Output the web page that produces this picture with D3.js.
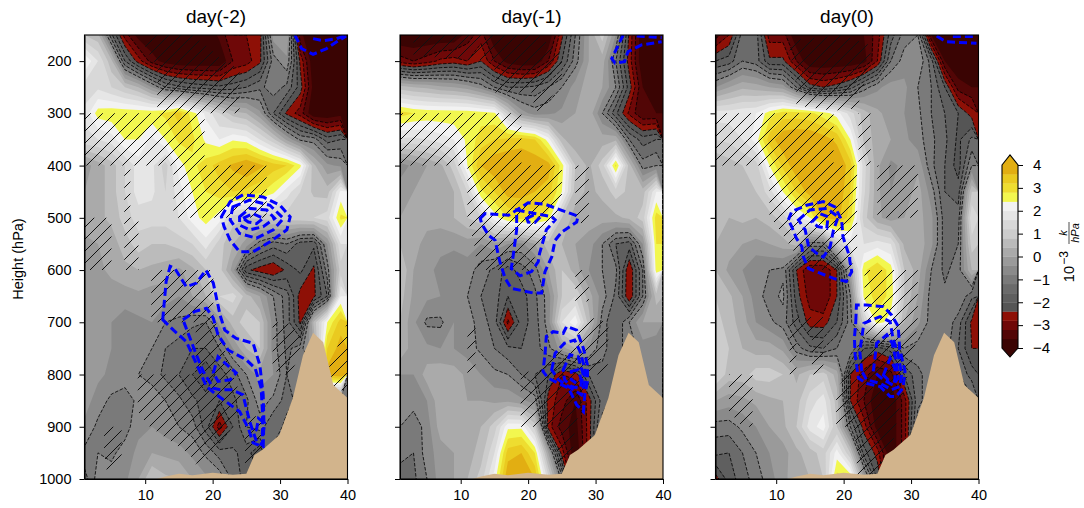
<!DOCTYPE html>
<html lang="en">
<head>
  <meta charset="utf-8">
  <title>Stability cross sections</title>
  <script src="https://d3js.org/d3.v7.min.js" charset="utf-8"></script>
  <style type="text/css">
    html, body { margin: 0; padding: 0; background: #fff; }
    text { font-family: "Liberation Sans", Arial, sans-serif; fill: #000; }
    .tick text { font-size: 14.5px; }
  </style>
</head>
<body>
  <svg id="chart" width="1084" height="508" xmlns="http://www.w3.org/2000/svg"></svg>
  <script type="text/javascript">
    // grid of the shaded field: columns are x = 1,3,...,39, rows are 150,200,...,1000 hPa
    var gridX = d3.range(1, 40, 2);
    var gridP = d3.range(150, 1001, 50);

    var titles = ['day(-2)', 'day(-1)', 'day(0)'];
    var pressureTicks = [200, 300, 400, 500, 600, 700, 800, 900, 1000];
    var xTicks = [10, 20, 30, 40];
    var colorTicks = [4, 3, 2, 1, 0, -1, -2, -3, -4];

    var bandColors = ['#3a0403', '#520606', '#6f0808', '#8e1006',
      '#555555', '#5f5f5f', '#6b6b6b', '#7a7a7a', '#8a8a8a', '#9a9a9a', '#aaaaaa', '#bbbbbb',
      '#cccccc', '#d8d8d8', '#e6e6e6', '#f2f2f2',
      '#f2f74f', '#eedd30', '#eaca20', '#e2ae12'];
    var bandEdges = d3.range(0, 21).map(function(i) { return +(-4 + i * 0.4).toFixed(1); });
    var dashLevels = [-3.2, -2.8, -2.4, -2, -1.6, -1.2, -0.8];

    var terrainX = [11.7, 13, 15, 17, 20, 23, 25, 26.2, 27.4, 29.9, 31.9, 33.4, 34.9, 36.4, 37.9, 40];
    var terrainP = [1000, 995, 990, 993, 988, 992, 990, 954, 944, 916, 845, 763, 720, 738, 820, 845];

    var day2 = [
      [0.8, 0.5, -1.5, -3, -3.8, -4, -4, -4, -4, -4, -3.5, -2.8, -2.8, -2.6, -0.2, 0, -3.5, -4, -4, -4],
      [2.4, 1.6, 0.5, -1.6, -2.6, -3.4, -3.8, -4, -4, -4, -4, -3.2, -3, -2.5, -1, -0.5, -2.5, -4, -4, -4],
      [1.4, 1.5, 1.2, 0.8, 0.4, -0.4, -1.2, -1.5, -1.7, -1.8, -1.9, -1.8, -1.6, -1.3, -1, -1.3, -2.2, -3.8, -4, -4],
      [1.7, 2.6, 2.7, 2.7, 2.7, 2.7, 2.9, 3.4, 2.6, 1.9, 1.2, 0.6, 0.4, -0.3, -1.6, -2.5, -3, -4, -4, -3.8],
      [1.5, 1.6, 1.8, 2.4, 2.4, 1.9, 2.4, 2.9, 2.9, 2.3, 2, 2.35, 2.2, 1.6, 0.9, -0.1, -0.9, -1, -1.8, -1.6],
      [-0.2, 0.2, 0.6, 1.2, 1.8, 1.7, 1, 2.2, 2.7, 3, 3.4, 3.7, 4, 3.7, 3.4, 3.2, 2.5, 0.5, -0.3, -0.5],
      [0, 0.2, 0.6, 1.2, 1.8, 1.7, 1.2, 1.8, 2.4, 2.8, 3, 3.2, 3.1, 2.9, 2.5, 1.8, 1.2, 0.7, 0.6, 2.1],
      [0.2, 0.3, 0.5, 1, 1.4, 1.4, 1.4, 1.6, 2.2, 2.6, 2.2, 1, 0.8, 0.9, 1, 1, 1.1, 1.2, 1.4, 2.9],
      [-0.1, 0, 0.2, 0.6, 1, 0.8, 0.8, 1, 1.2, 1.8, 1, 0.4, -0.2, -1, -1.4, -1.2, -1.8, -1.9, -0.4, 1.6],
      [-0.2, -0.1, 0.1, 0.3, 0.4, 0.3, 0.2, -0.1, 0.3, 0.8, 1, -0.2, -2.3, -2.6, -2.8, -2.3, -1.9, -2.5, -1, 1],
      [-0.3, -0.3, -0.2, -0.2, -0.1, -0.2, -0.2, -0.4, 0, 0.4, 1.2, 1.4, 0.6, 0, -0.8, -1.4, -2.6, -2.5, -1.6, 2],
      [-0.3, -0.4, -0.4, -0.6, -0.5, -0.4, -0.8, -0.9, -1.1, -1.2, -0.3, 0.6, 1, 0.8, -0.6, -1.4, -2.5, 0.5, 2.4, 3.4],
      [-0.2, -0.3, -0.4, -0.5, -0.6, -0.8, -1.2, -1.4, -1.6, -1.6, -1.2, -0.4, 0.4, 0.8, -0.6, -1.3, -1, 0, 3.2, 3.8],
      [-0.2, -0.3, -0.5, -0.6, -0.8, -1, -1.3, -1.6, -2, -2.4, -1.8, -1.4, -0.8, -0.2, -0.4, -1.2, -1, -1, 3.8, 4],
      [-0.2, -0.6, -0.9, -1, -0.7, -0.5, -0.8, -1.1, -1.5, -1.8, -2, -1.7, -1.3, -0.6, -0.9, -1.4, -1, -1, -1, -1],
      [-0.5, -0.9, -1, -1, -0.5, -0.4, -0.6, -0.8, -1, -1.8, -3, -2, -1.2, -1, -1.6, -1, -1, -1, -1, -1],
      [-0.9, -0.8, -0.9, -0.6, -0.3, 0, -0.1, -0.2, -0.5, -0.9, -1.4, -1.5, -1.8, -2.4, -1, -1, -1, -1, -1, -1],
      [-1.4, -0.6, -0.6, -0.5, 0, 0.8, 0.5, 0.4, 0, -0.3, -0.5, -1.3, -1.8, -2, -1, -1, -1, -1, -1, -1]
    ];

    var day1 = [
      [-4, -4, -4, -4, -4, -3.4, -3, -4, -4, -4, -4, -4, -2.5, -1.2, 0, 1, -0.4, -2.5, -4, -4],
      [-3, -3.2, -3, -2.7, -2.6, -2.8, -2.4, -3.2, -3.8, -4, -4, -3.2, -2, -1, 0, 0.2, -1.2, -2.6, -4, -4],
      [0.6, 0.4, 0.3, 0.1, 0, -0.2, -0.6, -1.2, -1.6, -1.6, -1.5, -1.2, -0.8, -0.2, 0.2, 0, -0.8, -2.2, -3.6, -4],
      [3, 2.8, 2.7, 2.7, 2.7, 2.7, 2.6, 2.5, 1, -0.2, -0.6, -0.5, -0.3, 0, 0.3, -0.8, -1.9, -2.9, -3.6, -3.6],
      [1.5, 1.5, 1.6, 1.8, 2, 2.5, 3, 3.2, 3.3, 3.4, 3.2, 2.2, 0.5, 0.1, 0.2, 0.2, 0.3, -1.2, -1.8, -1.6],
      [-0.6, -0.3, 0, 0.3, 1, 2.4, 3.6, 3.9, 4, 4, 3.9, 3.8, 2.6, 0.8, 0.3, 1, 2.9, 0.6, -1, -0.8],
      [-0.2, 0, 0.2, 0.2, 0.4, 1.2, 2.7, 3.2, 3.8, 3.8, 3.6, 3.4, 2.4, 0.6, 0.3, 0.5, 1, 0.7, 0.6, 2],
      [0, 0, 0.1, 0.2, 0.4, 0.8, 1.2, 2.2, 2.8, 3, 3, 2.6, 0.8, 0.2, 0.2, 0.2, 0.3, 0.5, 1, 3],
      [0.4, 0.1, -0.1, -0.3, -0.3, -0.2, -0.4, -0.1, -0.4, -0.5, 0, 0.6, 0.4, 0, -0.2, -0.8, -1.6, -1.8, -0.4, 2.8],
      [0.8, 0, -0.3, -0.5, -0.7, -0.6, -1, -1.3, -1.8, -1.4, -1, 0, 0.8, 0.2, -0.4, -0.8, -1.1, -2.8, -1.2, 2.6],
      [0.6, -0.1, -0.3, -0.4, -0.6, -0.8, -1.2, -1.4, -2, -1.8, -1.3, -0.6, 0.8, 1.2, 0.2, -0.6, -1.3, -2.8, -1.2, 0.6],
      [0.4, -0.3, -0.9, -0.9, -0.4, -0.6, -1, -1.4, -2.9, -1.8, -1.4, -0.6, 1.6, 2.3, 0.6, -1, -1.6, -0.8, 0, 0],
      [0.3, -0.2, -0.3, -0.4, -0.4, -0.6, -0.9, -1.2, -1.5, -1.6, -1.4, -0.9, -0.2, 0.4, -0.4, -1.1, -1.4, -1, -0.6, -0.8],
      [-0.4, -0.4, 0.2, 0.3, 0.2, -0.1, -0.4, -0.7, -0.8, -1.2, -1.6, -2, -2.8, -2.6, -1.6, -1.3, -1.2, -1, -0.5, -0.8],
      [-0.6, -0.6, -0.4, 0.3, 0.1, 0, 0, -0.1, -0.1, -0.3, -0.6, -2.6, -3, -3.6, -2.6, -1.4, -1, -1, -0.5, -0.6],
      [-0.8, -1.1, -0.6, 0.2, 0.2, 0.3, 0.4, 1, 2.3, 2.3, 1, -2.6, -3.4, -3.8, -2.6, -1, -1, -1, -1, -1],
      [-1, -1.2, -0.6, -0.2, 0, 0.2, 0.6, 1.6, 3.4, 3.6, 2.8, 0, -2.6, -4, -2.6, -1, -1, -1, -1, -1],
      [-1.5, -1.3, -0.8, -0.2, 0, 0.4, 1, 2.2, 4, 4, 3.6, 1.4, -1, -4, -1, -1, -1, -1, -1, -1]
    ];

    var day0 = [
      [-3.4, -2.8, -1.4, -1.4, -3, -3, -4, -4, -4, -4, -4, -3.6, -3, -1.8, -1, -0.8, -3.6, -4, -4, -4],
      [-2, -1.8, -1.2, -1.4, -2.3, -2.3, -3.2, -4, -4, -4, -4, -3.8, -2.8, -1.2, -0.6, -0.4, -1.4, -3.6, -4, -4],
      [-0.4, 0, 0.3, 0.2, 0, -0.2, -1.2, -2.2, -2.4, -2.2, -1.8, -1, -0.5, -0.2, -0.3, -0.8, -1.2, -2, -3.4, -3.6],
      [1.8, 1.8, 1.9, 2, 2.6, 3, 3, 2.9, 2.6, 2.2, 1.4, 0.6, 0.1, -0.2, -0.4, -0.7, -1.2, -1.6, -2, -2.6],
      [1.2, 1.3, 1.6, 2.2, 3.4, 3.9, 4, 4, 3.8, 3.5, 2.4, 0.7, 0.2, 0, -0.3, -0.6, -1.1, -1.5, -2.1, -1.5],
      [0.4, 0.6, 0.8, 1, 2.4, 3.3, 3.9, 4, 4, 4, 3.4, 1.4, 0.1, -0.5, -0.3, -0.1, -1.1, -1.6, -2.2, -0.8],
      [0.5, 0.6, 0.6, 0.8, 1.4, 2.4, 3.2, 3.8, 4, 4, 3.2, 1.3, 0.1, -0.4, -0.3, 0.2, -0.6, -1.6, -1.8, 0.8],
      [0.4, 0.4, 0.5, 0.4, 0.6, 1, 1.9, 2.4, 3.6, 3.8, 3, 1, 0.1, -0.2, 0, 0.2, -0.3, -1.4, -1.4, 1.6],
      [0.4, 0.2, 0, -0.1, 0, 0.2, 0.6, -1, -1, 0.9, 1.8, 1.6, 1.8, 1.6, 0.3, 0.3, -0.3, -1.4, -1.2, 1],
      [0.4, -0.1, -0.4, -0.8, -0.8, -0.9, -2.4, -3.2, -3.2, -2.4, 0, 2.7, 3.2, 2.6, 0.8, 0.2, -0.8, -1.3, -1, 0.4],
      [0.8, 0.5, 0, -0.6, -1, -0.7, -2.2, -3, -3.2, -2.4, -0.8, 2.5, 3, 2.7, 0.8, 0, -1, -1.1, -0.8, -1.5],
      [1, 0.6, 0.2, -0.4, -0.7, -1, -1.8, -2.6, -2.6, -2, -1, 1, 2.6, 2.2, 0.4, -0.3, -1, -0.9, -1.4, -2.5],
      [1, 0.8, 0.4, 0.2, 0.2, -0.1, -1, -1.5, -1.6, -1.2, -0.8, -2, -2.2, -1.8, -0.8, -1, -1.1, -1, -1.6, -2.4],
      [1.3, 0.6, 0.6, 1, 1, 0.8, 0.3, 0.8, 1, 0.2, -2.4, -3, -3.6, -3.4, -2, -1.3, -1, -1, -1.2, -1.8],
      [0, -0.2, -0.1, 0.1, 0.3, 0.4, 0.6, 1.4, 1.8, 0.6, -2.4, -3.2, -4, -4, -3, -1.3, -1, -1, -1, -1],
      [-1, -1, -0.7, -0.4, 0, 0.3, 0.8, 1.8, 2.2, 0.8, -1.2, -2.6, -3.8, -4, -3, -1, -1, -1, -1, -1],
      [-1.5, -1.6, -1.2, -0.8, -0.4, -0.2, 0.3, 0.6, 1, 2.2, 0.8, -1.8, -2.6, -4, -3, -1, -1, -1, -1, -1],
      [-2.6, -1.8, -1.4, -1, -0.6, -0.1, 0.2, 0.4, 0.8, 3, 2.8, 0, -2, -4, -1, -1, -1, -1, -1, -1]
    ];
    var fields = [day2, day1, day0];

    // thick blue contours as [x, hPa]
    var blueClosed = [
      [
        [[12.6,695],[13.1,622],[13.7,593],[14.4,597],[16.1,632],[17.6,625],[19,600],[20.1,625],[21.1,686],[21.8,715],[23.5,731],[26,740],[27,782],[27.5,839],[27.6,890],[27.5,938],[26,931],[25.3,903],[24,871],[22,852],[20.6,839],[19.1,823],[18.1,794],[16.1,737],[14.2,715]],
        [[15.6,695],[17.4,679],[19.1,673],[20.1,692],[20.8,724],[22.3,753],[25,772],[26.3,788],[27.2,826],[27.4,877],[27.4,935],[26.5,928],[25.5,890],[24.5,839],[22.8,829],[21.1,829],[20.1,826],[18.6,794],[17.4,756]],
        [[20.1,797],[20.8,766],[23.5,797],[22.6,810],[20.8,813]],
        [[26.8,884],[27.7,893],[27.5,912],[26.5,906]],
        [[21.3,498],[22.6,469],[24.5,456],[27.5,460],[30,476],[31.5,498],[31,523],[28.5,546],[26,565],[24,565],[22.6,543],[21.7,517]],
        [[23,479],[25.5,466],[28.5,476],[30.5,501],[29,523],[26.5,539],[24,530],[22.6,504]],
        [[24,498],[25.5,482],[28,485],[29.2,501],[27.5,517],[25.5,523],[24,514]],
        [[24.5,501],[26,492],[27.5,501],[26.5,511],[25.3,508]]
      ],
      [
        [[12.9,501],[13.6,492],[17.1,495],[20,471],[22.5,474],[27.4,497],[27.2,508],[25,527],[24,543],[23.5,575],[22.5,603],[22,644],[20.8,644],[17.5,635],[16.6,616],[15.8,584],[15.1,543],[14.1,533],[13.1,511]],
        [[18.3,485],[23.5,498],[24,504],[22.7,523],[21.7,568],[21.5,584],[20.5,603],[18.8,611],[17.5,597],[17.8,571],[18.3,523]],
        [[19.8,501],[20.8,495],[21.6,501],[21,509],[20,508]],
        [[22.5,762],[22.7,727],[23.7,718],[25.2,721],[25.7,708],[27.2,715],[28.2,750],[28.8,782],[28.8,813],[28.4,839],[28.2,871],[27.2,858],[26,826],[24.5,817],[23,807],[22.2,794]],
        [[23.5,791],[24,759],[25.4,740],[26.9,734],[27.7,756],[28.4,788],[28.4,813],[27.9,839],[27.2,833],[26,823],[24.5,810]],
        [[25.2,791],[26.2,762],[27.4,766],[28.2,801],[27.7,826],[26.4,823],[25.4,810]],
        [[26.4,794],[27.4,791],[27.9,810],[27.2,817],[26.4,810]]
      ],
      [
        [[11.8,504],[12.3,488],[14.5,476],[17,469],[18.7,479],[19.7,504],[19.9,536],[20.9,575],[20.9,581],[21.2,603],[20.4,622],[18.5,616],[16.5,606],[14.8,597],[14,574],[13.8,555],[13,539],[12.3,517]],
        [[13.3,504],[15,485],[17.5,482],[19.2,498],[18.5,523],[18,555],[17,575],[16,568],[14.8,555],[14.3,523]],
        [[15.3,508],[16.5,492],[17.7,498],[17.5,520],[16.2,517]],
        [[21.8,699],[21.9,667],[23.4,667],[25.9,670],[27.1,686],[28.1,708],[28.3,750],[29.1,794],[28.8,826],[27.8,842],[26.9,842],[25.4,823],[23.4,817],[22.2,807],[21.7,762],[21.6,730]],
        [[22.7,794],[22.4,756],[23,702],[25.4,689],[26.9,699],[27.3,730],[28.1,762],[28.6,801],[28.3,823],[27.1,829],[25.4,817],[23.4,810]],
        [[24.4,794],[24.9,740],[26.4,724],[27.2,740],[27.8,775],[28.1,807],[27.3,820],[25.9,810]],
        [[25.9,801],[26.9,769],[27.6,788],[27.6,813],[26.6,810]]
      ]
    ];
    var blueOpen = [
      [
        [[32.2,150],[33.2,176],[34.9,187],[36.9,176],[38.4,163],[39.8,152]],
        [[34.9,157],[36.4,161],[38.4,157],[39.8,150]]
      ],
      [
        [[34.1,150],[32.4,195],[32.9,204],[34.3,201],[34.8,182],[36.8,169],[39.8,163]],
        [[36.1,152],[39.8,155]]
      ],
      [
        [[33.8,152],[35.2,163],[39.7,166]],
        [[36.2,153],[39.7,153]]
      ]
    ];

    // hatched (significant) areas as [x, hPa]
    var hatchAreas = [
      [
        [[1,300],[11.8,300],[11.8,210],[10,175],[10,150],[17,150],[19.5,175],[21.5,200],[24,215],[24,300],[18.8,300],[18.8,400],[28,400],[28,500],[14.2,500],[14.2,400],[1,400]],
        [[1,500],[5,500],[5,600],[1,600]],
        [[6.9,405],[7.8,405],[7.8,500],[9,500],[9,600],[6.9,600]],
        [[10.9,600],[20.1,600],[20.1,700],[10.9,700]],
        [[17.5,700],[20.5,700],[23,800],[17.5,800]],
        [[8.9,800],[23,800],[24.5,850],[21,945],[17,975],[16.8,955],[10.3,896],[8.9,871]],
        [[24.8,880],[27.5,880],[27.5,950],[25.2,985],[24.8,985]],
        [[28.9,700],[31,700],[33,720],[33,760],[31.5,800],[30.3,800],[28.9,790]],
        [[3.9,900],[6.5,900],[6.5,970],[4.5,1000],[3.9,950]],
        [[36.5,810],[40,700],[40,830],[37.5,830]]
      ],
      [
        [[3,150],[21.5,150],[25,190],[25,240],[22,295],[20.8,295],[20.8,260],[15,260],[15,200],[3,190]],
        [[1,300],[19,300],[19,400],[25,400],[25,470],[22,550],[20,600],[12.5,600],[12,550],[11,500],[11,400],[1,400]],
        [[27,400],[29,400],[29,510],[27,510]],
        [[11,710],[12.2,710],[12.2,800],[11,800]],
        [[27,600],[29,600],[29,660],[27,660]],
        [[18.9,800],[21,790],[26.5,740],[29,690],[31.9,700],[31.9,740],[28.5,830],[27,900],[26.5,960],[25,975],[24,970],[25,900],[22.5,900],[18.9,900]],
        [[30,770],[31.8,770],[31.8,800],[30,800]]
      ],
      [
        [[12,160],[20,150],[24,170],[24,200],[22,290],[18.5,295],[13,285],[13,220],[12,190]],
        [[1,300],[18.5,300],[18.5,400],[22,400],[22,560],[21,600],[15,600],[14,590],[9,495],[9,400],[1,400]],
        [[22.2,300],[24,300],[24,400],[22.2,400]],
        [[25,400],[31,400],[31,500],[25,500]],
        [[12,690],[17,690],[17,800],[15.3,800],[15.3,720],[13,720],[13,800],[12,800]],
        [[23.1,600],[31,600],[31,690],[30.5,760],[29.5,800],[28,880],[26.8,970],[25,1000],[21.9,1000],[22,950],[21.5,900],[18.9,900],[18.9,830],[21.5,780],[24,740],[23.1,720]],
        [[3,800],[6.5,800],[6.5,900],[5,900],[3,870]]
      ]
    ];

    var svg = d3.select('#chart');
    var panelLeft = [84.5, 400, 715.5];
    var panelWidth = 263, plotTop = 35, plotBottom = 479;

    var defs = svg.append('defs');
    defs.append('pattern')
      .attr('id', 'hatch')
      .attr('width', 12).attr('height', 12)
      .attr('patternUnits', 'userSpaceOnUse')
      .append('path')
      .attr('d', 'M-1,13 L13,-1 M-3,3 L3,-3 M9,15 L15,9')
      .attr('stroke', '#111').attr('stroke-width', 1).attr('fill', 'none');

    var y = d3.scaleLinear().domain([150, 1000]).range([plotTop, plotBottom]);
    var contours = d3.contours().size([gridX.length, gridP.length]);

    titles.forEach(function(title, k) {
      var x = d3.scaleLinear().domain([1, 40]).range([panelLeft[k], panelLeft[k] + panelWidth]);
      var values = [];
      fields[k].forEach(function(row) { row.forEach(function(v) { values.push(v); }); });

      // contour space -> data -> pixels
      var project = d3.geoTransform({
        point: function(cx, cy) {
          this.stream.point(x(gridX[0] + (cx - 0.5) * 2), y(gridP[0] + (cy - 0.5) * 50));
        }
      });
      var geo = d3.geoPath(project);
      var line = d3.line().x(function(d) { return x(d[0]); }).y(function(d) { return y(d[1]); });

      defs.append('clipPath').attr('id', 'clip' + k)
        .append('rect')
        .attr('x', x.range()[0]).attr('y', plotTop)
        .attr('width', panelWidth).attr('height', plotBottom - plotTop);

      var g = svg.append('g').attr('clip-path', 'url(#clip' + k + ')');

      g.append('rect')
        .attr('x', x.range()[0]).attr('y', plotTop)
        .attr('width', panelWidth).attr('height', plotBottom - plotTop)
        .attr('fill', bandColors[0]);

      // filled bands, painted from low to high
      g.selectAll('path.band')
        .data(contours.thresholds(bandEdges.slice(1, 20))(values))
        .enter().append('path')
        .attr('class', 'band')
        .attr('d', geo)
        .attr('fill', function(d, i) { return bandColors[i + 1]; });

      g.selectAll('path.dash')
        .data(contours.thresholds(dashLevels)(values))
        .enter().append('path')
        .attr('class', 'dash')
        .attr('d', geo)
        .attr('fill', 'none')
        .attr('stroke', '#000')
        .attr('stroke-width', 0.8)
        .attr('stroke-dasharray', '3.5,1.6');

      g.selectAll('path.hatch')
        .data(hatchAreas[k])
        .enter().append('path')
        .attr('class', 'hatch')
        .attr('d', function(d) { return line(d) + 'Z'; })
        .attr('fill', 'url(#hatch)');

      g.selectAll('path.blue')
        .data(blueClosed[k].map(function(d) { return line(d) + 'Z'; })
          .concat(blueOpen[k].map(function(d) { return line(d); })))
        .enter().append('path')
        .attr('class', 'blue')
        .attr('d', function(d) { return d; })
        .attr('fill', 'none')
        .attr('stroke', '#0000ff')
        .attr('stroke-width', 3)
        .attr('stroke-dasharray', '8,4');

      var terrain = d3.area()
        .x(function(d) { return x(d); })
        .y0(y(1000))
        .y1(function(d, i) { return y(terrainP[i]); });
      g.append('path')
        .attr('d', terrain(terrainX))
        .attr('fill', '#d2b48c');

      // axes
      svg.append('g')
        .attr('transform', 'translate(0,' + plotBottom + ')')
        .call(d3.axisBottom(x).tickValues(xTicks).tickSize(5).tickPadding(6).tickSizeOuter(0));
      var yAxis = d3.axisLeft(y).tickValues(pressureTicks).tickSize(5).tickPadding(8)
        .tickSizeOuter(0).tickFormat(d3.format('d'));
      if (k > 0) yAxis.tickFormat('');
      svg.append('g')
        .attr('transform', 'translate(' + x.range()[0] + ',0)')
        .call(yAxis);

      svg.append('rect')
        .attr('x', x.range()[0]).attr('y', plotTop)
        .attr('width', panelWidth).attr('height', plotBottom - plotTop)
        .attr('fill', 'none').attr('stroke', '#000').attr('stroke-width', 1.1);

      svg.append('text')
        .attr('x', x.range()[0] + panelWidth / 2).attr('y', 23)
        .attr('text-anchor', 'middle')
        .attr('font-size', '19px')
        .text(title);
    });

    svg.append('text')
      .attr('transform', 'translate(23,259) rotate(-90)')
      .attr('text-anchor', 'middle')
      .attr('font-size', '14.5px')
      .text('Height (hPa)');

    // colorbar
    var cx0 = 1002, cx1 = 1018;
    var cy = d3.scaleLinear().domain([-4, 4]).range([348, 165]);
    var bar = svg.append('g');
    bar.selectAll('rect')
      .data(bandColors)
      .enter().append('rect')
      .attr('x', cx0).attr('width', cx1 - cx0)
      .attr('y', function(d, i) { return cy(bandEdges[i + 1]); })
      .attr('height', function(d, i) { return cy(bandEdges[i]) - cy(bandEdges[i + 1]) + 0.3; })
      .attr('fill', function(d) { return d; });
    bar.append('path')
      .attr('d', 'M' + cx0 + ',' + cy(4) + 'L' + (cx0 + cx1) / 2 + ',155L' + cx1 + ',' + cy(4) + 'Z')
      .attr('fill', bandColors[19]);
    bar.append('path')
      .attr('d', 'M' + cx0 + ',' + cy(-4) + 'L' + (cx0 + cx1) / 2 + ',357L' + cx1 + ',' + cy(-4) + 'Z')
      .attr('fill', bandColors[0]);
    bar.append('path')
      .attr('d', 'M' + cx0 + ',' + cy(4) + 'L' + (cx0 + cx1) / 2 + ',155L' + cx1 + ',' + cy(4) +
        'L' + cx1 + ',' + cy(-4) + 'L' + (cx0 + cx1) / 2 + ',357L' + cx0 + ',' + cy(-4) + 'Z')
      .attr('fill', 'none').attr('stroke', '#000').attr('stroke-width', 1.1);

    var cAxis = svg.append('g')
      .attr('transform', 'translate(' + cx1 + ',0)')
      .call(d3.axisRight(cy).tickValues(colorTicks).tickSize(5)
        .tickFormat(function(d) { return d < 0 ? '\u2212' + (-d) : d; }));
    cAxis.select('.domain').remove();
    cAxis.selectAll('text').attr('x', 15).style('font-size', '15px');

    // colorbar label: 10^-3 k/hPa, rotated
    var lab = svg.append('g').attr('transform', 'translate(1074,256) rotate(-90)');
    lab.append('text').attr('x', -10).attr('y', 0).attr('text-anchor', 'end').attr('font-size', '14.5px')
      .text('10');
    lab.append('text').attr('x', 5).attr('y', -6).attr('text-anchor', 'end').attr('font-size', '12px')
      .text('\u22123');
    lab.append('text').attr('x', 23).attr('y', -7).attr('text-anchor', 'middle').attr('font-size', '11px')
      .attr('font-style', 'italic').text('k');
    lab.append('line').attr('x1', 12).attr('x2', 34).attr('y1', -5).attr('y2', -5)
      .attr('stroke', '#000').attr('stroke-width', 0.7);
    lab.append('text').attr('x', 23).attr('y', 5).attr('text-anchor', 'middle').attr('font-size', '11px')
      .attr('font-style', 'italic').text('hPa');
  </script>
</body>
</html>
